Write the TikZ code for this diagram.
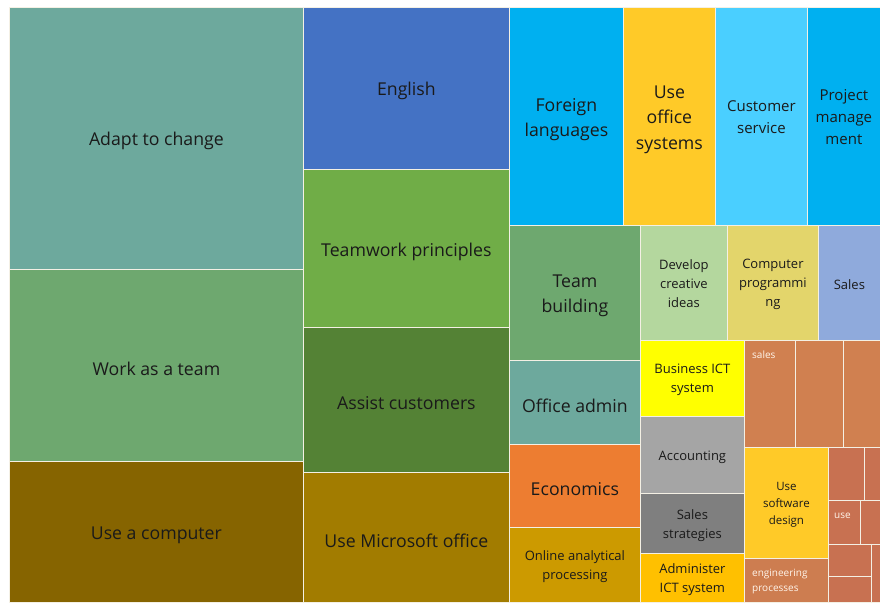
\documentclass[tikz,border=0pt]{standalone}
\usepackage{fontspec}
\setmainfont{Open Sans}
\newcommand\tmBig{\fontsize{17.7}{25.5}\selectfont}
\newcommand\tmMed{\fontsize{15}{22}\selectfont}
\newcommand\tmSml{\fontsize{13}{19}\selectfont}
\newcommand\tmSw{\fontsize{11.5}{17}\selectfont}
\newcommand\tmTiny{\fontsize{10}{15}\selectfont}
\definecolor{cAdapt}{HTML}{6DA99D}
\definecolor{cTeam}{HTML}{6EA86F}
\definecolor{cComp}{HTML}{866400}
\definecolor{cEng}{HTML}{4472C4}
\definecolor{cTw}{HTML}{70AD47}
\definecolor{cAssist}{HTML}{548235}
\definecolor{cMs}{HTML}{A27C00}
\definecolor{cBlue}{HTML}{00B0F0}
\definecolor{cGold}{HTML}{FFCA28}
\definecolor{cLBlue}{HTML}{4ACFFF}
\definecolor{cEcon}{HTML}{ED7D31}
\definecolor{cOlap}{HTML}{CC9A00}
\definecolor{cCreat}{HTML}{B4D79E}
\definecolor{cProg}{HTML}{E3D56B}
\definecolor{cSales}{HTML}{8FAADC}
\definecolor{cYel}{HTML}{FFFF00}
\definecolor{cAcc}{HTML}{A5A5A5}
\definecolor{cStrat}{HTML}{7F7F7F}
\definecolor{cAdm}{HTML}{FFC000}
\definecolor{cOr}{HTML}{D08050}
\definecolor{cOr2}{HTML}{C87151}
\definecolor{cOr3}{HTML}{CD7D50}
\definecolor{cTxt}{HTML}{1A1A1A}
\definecolor{cSep}{HTML}{F4F0E4}
\begin{document}
\begin{tikzpicture}[x=1pt,y=-1pt,
  cell/.style={draw=cSep,line width=0.8pt,anchor=north west,inner sep=0pt},
  big/.style={inner sep=0pt,align=center,text=cTxt,font=\tmBig,yshift=-3pt},
  med/.style={inner sep=0pt,align=center,text=cTxt,font=\tmMed,yshift=-1pt},
  sml/.style={inner sep=0pt,align=center,text=cTxt,font=\tmSml,yshift=-2pt},
  swl/.style={inner sep=0pt,align=center,text=cTxt,font=\tmSw,yshift=-2pt},
  tinylbl/.style={anchor=base west,inner sep=0pt,align=left,text=white!92!orange,font=\tmTiny}]
\useasboundingbox[fill=white] (0,0) rectangle (880,602);
% column 1
\node (adapt) [cell,fill=cAdapt,minimum width=294pt,minimum height=262pt,label={[big]center:Adapt to change}] at (9,7) {};
\node (team) [cell,fill=cTeam,minimum width=294pt,minimum height=192pt,label={[big]center:Work as a team}] at (9,269) {};
\node (comp) [cell,fill=cComp,minimum width=294pt,minimum height=141pt,label={[big]center:Use a computer}] at (9,461) {};
% column 2
\node (eng) [cell,fill=cEng,minimum width=206pt,minimum height=162pt,label={[big]center:English}] at (303,7) {};
\node (tw) [cell,fill=cTw,minimum width=206pt,minimum height=158pt,label={[big]center:Teamwork principles}] at (303,169) {};
\node (assist) [cell,fill=cAssist,minimum width=206pt,minimum height=145pt,label={[big]center:Assist customers}] at (303,327) {};
\node (ms) [cell,fill=cMs,minimum width=206pt,minimum height=130pt,label={[big]center:Use Microsoft office}] at (303,472) {};
% top row
\node (foreign) [cell,fill=cBlue,minimum width=114pt,minimum height=218pt,label={[big]center:{Foreign\\languages}}] at (509,7) {};
\node (offsys) [cell,fill=cGold,minimum width=92pt,minimum height=218pt,label={[big]center:{Use\\office\\systems}}] at (623,7) {};
\node (cust) [cell,fill=cLBlue,minimum width=92pt,minimum height=218pt,label={[med]center:{Customer\\service}}] at (715,7) {};
\node (proj) [cell,fill=cBlue,minimum width=73pt,minimum height=218pt,label={[med]center:{Project\\manage\\ment}}] at (807,7) {};
% left lower column
\node (tb) [cell,fill=cTeam,minimum width=131pt,minimum height=135pt,label={[big]center:{Team\\building}}] at (509,225) {};
\node (oa) [cell,fill=cAdapt,minimum width=131pt,minimum height=84pt,label={[big]center:Office admin}] at (509,360) {};
\node (econ) [cell,fill=cEcon,minimum width=131pt,minimum height=83pt,label={[big]center:Economics}] at (509,444) {};
\node (olap) [cell,fill=cOlap,minimum width=131pt,minimum height=75pt,label={[sml]center:{Online analytical\\processing}}] at (509,527) {};
% second row
\node (creat) [cell,fill=cCreat,minimum width=87pt,minimum height=115pt,label={[sml,yshift=1pt]center:{Develop\\creative\\ideas}}] at (640,225) {};
\node (prog) [cell,fill=cProg,minimum width=91pt,minimum height=115pt,label={[sml,yshift=1pt]center:{Computer\\programmi\\ng}}] at (727,225) {};
\node (sales) [cell,fill=cSales,minimum width=62pt,minimum height=115pt,label={[sml]center:Sales}] at (818,225) {};
% column of small
\node (biz) [cell,fill=cYel,minimum width=104pt,minimum height=76pt,label={[sml,yshift=1pt]center:{Business ICT\\system}}] at (640,340) {};
\node (acc) [cell,fill=cAcc,minimum width=104pt,minimum height=77pt,label={[sml]center:Accounting}] at (640,416) {};
\node (strat) [cell,fill=cStrat,minimum width=104pt,minimum height=60pt,label={[sml]center:{Sales\\strategies}}] at (640,493) {};
\node (adm) [cell,fill=cAdm,minimum width=104pt,minimum height=49pt,label={[sml]center:{Administer\\ICT system}}] at (640,553) {};
% orange area
\node (o1) [cell,fill=cOr,minimum width=51pt,minimum height=107pt] at (744,340) {};
\node (o2) [cell,fill=cOr,minimum width=48pt,minimum height=107pt] at (795,340) {};
\node (o3) [cell,fill=cOr,minimum width=37pt,minimum height=107pt] at (843,340) {};
\node (sw) [cell,fill=cGold,minimum width=84pt,minimum height=111pt,label={[swl]center:{Use\\software\\design}}] at (744,447) {};
\node (ep) [cell,fill=cOr3,minimum width=84pt,minimum height=44pt] at (744,558) {};
\node (r1) [cell,fill=cOr2,minimum width=36pt,minimum height=53pt] at (828,447) {};
\node (r2) [cell,fill=cOr2,minimum width=16pt,minimum height=53pt] at (864,447) {};
\node (r3) [cell,fill=cOr2,minimum width=32pt,minimum height=44pt] at (828,500) {};
\node (r4) [cell,fill=cOr2,minimum width=20pt,minimum height=44pt] at (860,500) {};
\node (r5) [cell,fill=cOr2,minimum width=43pt,minimum height=32pt] at (828,544) {};
\node (r6) [cell,fill=cOr2,minimum width=43pt,minimum height=26pt] at (828,576) {};
\node (r7) [cell,fill=cOr2,minimum width=9pt,minimum height=58pt] at (871,544) {};
% small labels
\node (o1t) [tinylbl] at ([shift={(8pt,-18pt)}]o1.north west) {sales};
\node (r3t) [tinylbl] at ([shift={(6pt,-18pt)}]r3.north west) {use};
\node (ept) [tinylbl] at ([shift={(8pt,-33pt)}]ep.north west) {engineering\\processes};
\end{tikzpicture}
\end{document}
